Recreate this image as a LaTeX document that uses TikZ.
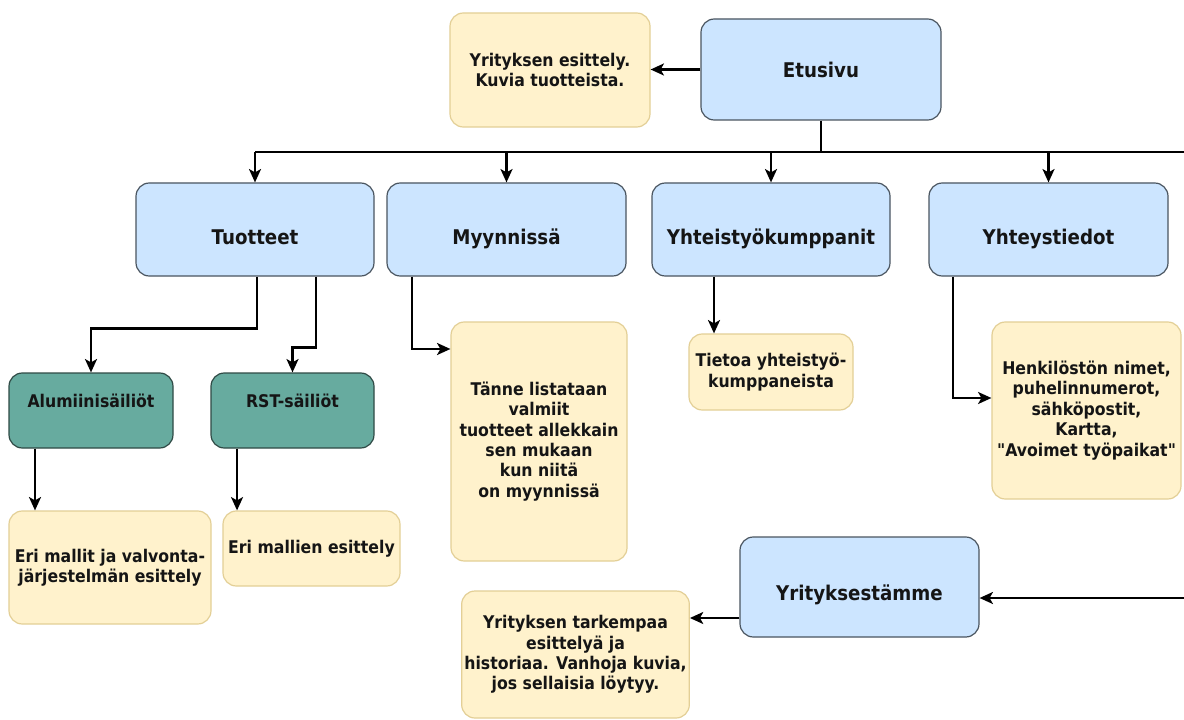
\documentclass[tikz,border=0pt]{standalone}
\usepackage{fontspec}
\setmainfont{DejaVu Sans}[FakeStretch=0.9, Ligatures=TeXOff]
\usetikzlibrary{arrows.meta}
\definecolor{bluefill}{HTML}{CCE5FF}
\definecolor{bluedraw}{HTML}{4A5560}
\definecolor{yelfill}{HTML}{FFF2CC}
\definecolor{yeldraw}{HTML}{E3CF96}
\definecolor{grnfill}{HTML}{67AB9F}
\definecolor{grndraw}{HTML}{2F4A45}
\definecolor{txt}{HTML}{151515}
\tikzset{
  x=0.75pt, y=-0.75pt,
  sz/.style 2 args={minimum width=#1*0.75pt, minimum height=#2*0.75pt},
  base/.style={rounded corners=10pt, inner sep=2pt, align=center, text=txt, font=\bfseries\fontsize{13.1}{15.3}\selectfont, line width=0.9pt},
  mainbox/.style={base, fill=bluefill, draw=bluedraw, font=\bfseries\fontsize{15.2}{17}\selectfont},
  lowtext/.style={text height=#1, text depth=3.5pt},
  notebox/.style={base, fill=yelfill, draw=yeldraw},
  subbox/.style={base, fill=grnfill, draw=grndraw},
  conn/.style={line width=1.7pt, draw=black},
  arr/.style={conn, -{Stealth[length=10pt,width=9pt,inset=2.5pt]}},
}
\begin{document}
\begin{tikzpicture}
\clip (0,0) rectangle (1184,720);
\fill[white] (0,0) rectangle (1184,720);
% nodes
\node[notebox, sz={200}{114}] (y1) at (550,70) {Yrityksen esittely.\\Kuvia tuotteista.};
\node[mainbox, sz={240}{101}] (etu) at (821,69.5) {Etusivu};
\node[mainbox, sz={238}{93}, lowtext=26.5pt] (tuot) at (255,229.5) {Tuotteet};
\node[mainbox, sz={239}{93}, lowtext=26.5pt] (myyn) at (506.5,229.5) {Myynnissä};
\node[mainbox, sz={238}{93}, lowtext=26.5pt] (yht) at (771,229.5) {Yhteistyökumppanit};
\node[mainbox, sz={239}{93}, lowtext=26.5pt] (yst) at (1048.5,229.5) {Yhteystiedot};
\node[subbox, sz={164}{75}] (alu) at (91,410.5) {Alumiinisäiliöt\\\mbox{}};
\node[subbox, sz={163}{75}] (rst) at (292.5,410.5) {RST-säiliöt\\\mbox{}};
\node[notebox, sz={202}{113}] (erim) at (110,567.5) {Eri mallit ja valvonta-\\järjestelmän esittely};
\node[notebox, sz={177}{75}] (erin) at (311.5,548.5) {Eri mallien esittely};
\node[notebox, sz={176}{239}] (tanne) at (539,441.5) {Tänne listataan\\valmiit\\tuotteet allekkain\\sen mukaan\\kun niitä\\on myynnissä};
\node[notebox, sz={164}{76}] (tietoa) at (771,372) {Tietoa yhteistyö-\\kumppaneista};
\node[notebox, sz={189}{177}] (henk) at (1086.5,410.5) {Henkilöstön nimet,\\puhelinnumerot,\\sähköpostit,\\Kartta,\\"Avoimet työpaikat"};
\node[mainbox, sz={239}{100}, lowtext=23pt] (yrit) at (859.5,587) {Yrityksestämme};
\node[notebox, sz={227}{127}] (tark) at (575.5,654.5) {Yrityksen tarkempaa\\esittelyä ja\\historiaa. Vanhoja kuvia,\\jos sellaisia löytyy.};
% bus
\coordinate (busL) at (255,152);
\coordinate (busR) at (1200,152);
\coordinate (rin) at (1200,598);
\draw[conn] (busL) -- (busR);
\draw[conn] (etu.south) -- (etu.south |- busL);
\draw[arr] (tuot.north |- busL) -- (tuot.north);
\draw[arr] (myyn.north |- busL) -- (myyn.north);
\draw[arr] (yht.north |- busL) -- (yht.north);
\draw[arr] (yst.north |- busL) -- (yst.north);
\draw[arr] (busR) -- (rin) -- (yrit.east |- rin);
% other connectors
\draw[arr] (etu.west) -- (y1.east |- etu.west);
\draw[arr] ([xshift=1.5pt]tuot.south) -- ++(0,52) -| (alu.north);
\draw[arr] ([xshift=45.75pt]tuot.south) -- ++(0,71) -| (rst.north);
\draw[arr] ([xshift=-42pt]alu.south) -- ([xshift=-42pt]alu.south |- erim.north);
\draw[arr] ([xshift=-41.6pt]rst.south) -- ([xshift=-41.6pt]rst.south |- erin.north);
\draw[arr] ([xshift=-70.9pt]myyn.south) |- (tanne.west |- 0,349);
\draw[arr] ([xshift=-42.75pt]yht.south) -- ([xshift=-42.75pt]yht.south |- tietoa.north);
\draw[arr] ([xshift=-71.6pt]yst.south) |- (henk.west |- 0,398);
\draw[arr] (yrit.west |- 0,618) -- (tark.east |- 0,618);
\end{tikzpicture}
\end{document}
